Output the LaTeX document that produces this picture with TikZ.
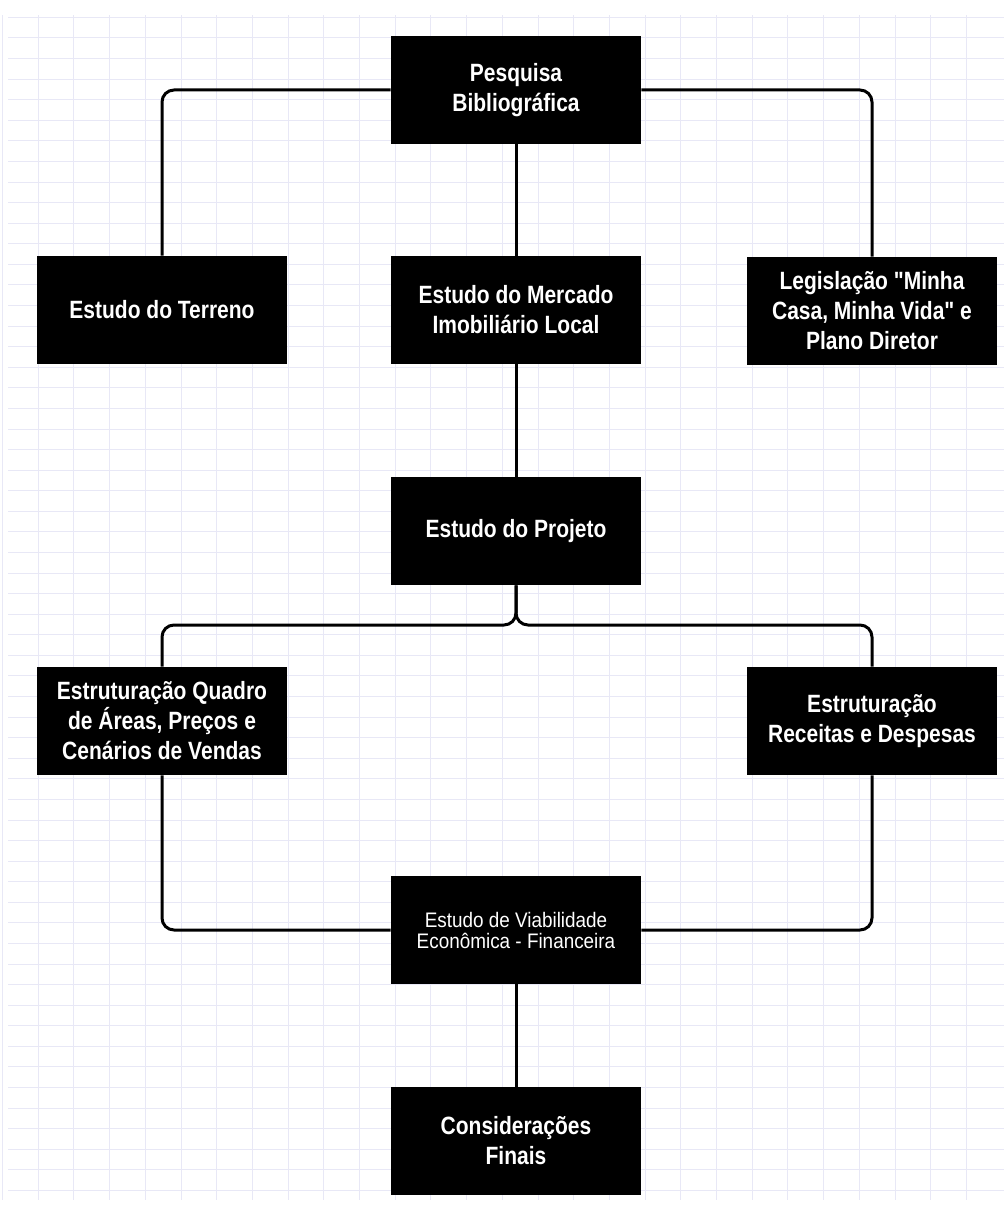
\documentclass[tikz,border=0pt]{standalone}
\usepackage{fontspec}
\newfontfamily\boxfont[FakeStretch=0.84]{Liberation Sans}
\newfontfamily\thinfont[FakeStretch=0.9]{Liberation Sans}
\definecolor{gridline}{RGB}{232,232,246}

\begin{document}
\begin{tikzpicture}[x=0.5pt, y=-0.5pt,
    etapa/.style={fill=black, text=white, align=center, minimum width=125pt,
                  minimum height=54pt, inner sep=2pt,
                  font=\boxfont\bfseries\fontsize{12.5}{15}\selectfont},
    etapafina/.style={etapa, font=\thinfont\fontsize{10.5}{10.5}\selectfont},
    ligacao/.style={line width=1.5pt, rounded corners=6pt}]
        \useasboundingbox (0,0) rectangle (1004,1209);
        % Quadriculado do fundo
        \foreach \i in {0,...,27} \draw[gridline, line width=0.5pt] (2.5+35.7*\i,15) -- (2.5+35.7*\i,1200);
        \foreach \j in {0,...,57} \draw[gridline, line width=0.5pt] (8,17.4+20.58*\j) -- (1004,17.4+20.58*\j);
        % Etapas
        \node[etapa] (pesquisa) at (516,90) {Pesquisa\\Bibliográfica};
        \node[etapa] (terreno) at (162,310) {Estudo do Terreno};
        \node[etapa] (mercado) at (516,310) {Estudo do Mercado\\Imobiliário Local};
        \node[etapa] (legislacao) at (872,311) {Legislação "Minha\\Casa, Minha Vida" e\\Plano Diretor};
        \node[etapa] (projeto) at (516,531) {Estudo do Projeto};
        \node[etapa] (quadro) at (162,721) {Estruturação Quadro\\de Áreas, Preços e\\Cenários de Vendas};
        \node[etapa] (receitas) at (872,721) {Estruturação\\Receitas e Despesas};
        \node[etapafina] (viabilidade) at (516,930) {Estudo de Viabilidade\\Econômica - Financeira};
        \node[etapa] (consideracoes) at (516,1141) {Considerações\\Finais};
        \coordinate (divisao) at (516,625);
        % Ligações
        \draw[ligacao] (pesquisa.west) -| (terreno.north);
        \draw[ligacao] (pesquisa.east) -| (legislacao.north);
        \draw[ligacao] (pesquisa.south) -- (mercado.north);
        \draw[ligacao] (mercado.south) -- (projeto.north);
        \draw[ligacao] (projeto.south) -- (divisao) -| (quadro.north);
        \draw[ligacao] (projeto.south) -- (divisao) -| (receitas.north);
        \draw[ligacao] (quadro.south) |- (viabilidade.west);
        \draw[ligacao] (receitas.south) |- (viabilidade.east);
        \draw[ligacao] (viabilidade.south) -- (consideracoes.north);
    \end{tikzpicture}
\end{document}
